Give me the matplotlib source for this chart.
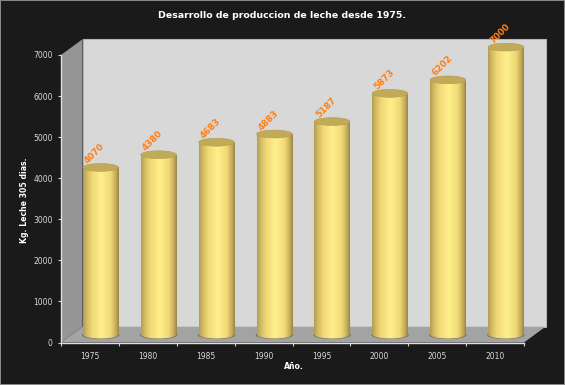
import numpy as np
import matplotlib
matplotlib.use("Agg")
import matplotlib.pyplot as plt
from matplotlib.colors import LinearSegmentedColormap
from matplotlib.patches import Ellipse, Polygon, Rectangle

years = ["1975", "1980", "1985", "1990", "1995", "2000", "2005", "2010"]
leche = [4070, 4380, 4683, 4883, 5187, 5873, 6202, 7000]
y_ticks = [0, 1000, 2000, 3000, 4000, 5000, 6000, 7000]

W, H = 565, 385
BG = "#1a1a1a"
TXT = "#d8d8d8"

# pixel box of the front plane of the plot
left, right, top, bottom = 61, 524, 55, 342.5

fig = plt.figure(figsize=(W / 100, H / 100), dpi=100, facecolor=BG)
ax = fig.add_axes([left / W, 1 - bottom / H, (right - left) / W, (bottom - top) / H])
ax.set_facecolor("none")

# depth of the fake 3d box, in data units
px_x = len(years) / (right - left)
px_y = 7000 / (bottom - top)
dx = 21.5 * px_x
dy = 15.8 * px_y
xmax = len(years)

# walls
ax.add_patch(Polygon([(dx, dy), (xmax + dx, dy), (xmax + dx, 7000 + dy), (dx, 7000 + dy)],
                     fc="#d8d8d8", ec="#b4b4b4", lw=0.8, clip_on=False, zorder=1))
ax.add_patch(Polygon([(0, 0), (dx, dy), (dx, 7000 + dy), (0, 7000)],
                     fc="#959595", ec="none", clip_on=False, zorder=1.1))
ax.add_patch(Polygon([(0, 0), (xmax, 0), (xmax + dx, dy), (dx, dy)],
                     fc="#a3a3a3", ec="none", clip_on=False, zorder=1.1))

# cylinder shading
cyl = LinearSegmentedColormap.from_list("cyl", [
    (0.0, "#b09c52"), (0.08, "#cdb55f"), (0.25, "#f0d876"), (0.52, "#fff08a"),
    (0.78, "#f0d876"), (0.92, "#c4ab58"), (1.0, "#978549")])
grad = np.linspace(0, 1, 128).reshape(1, -1)

bar_w = 35.6 * px_x
ell_h = 7.8 * px_y
for i, v in enumerate(leche):
    xc = i + 0.5 + dx / 2
    base = dy / 2
    top_v = v + dy / 2
    x0, x1 = xc - bar_w / 2, xc + bar_w / 2

    # contact shadow, only the tips show
    ax.add_patch(Ellipse((xc, base - 0.06 * ell_h), bar_w * 1.05, ell_h,
                         fc="#6f6d60", ec="none", clip_on=False, zorder=2))

    body = ax.imshow(grad, cmap=cyl, extent=[x0, x1, base, top_v], aspect="auto",
                     interpolation="bilinear", zorder=3)
    body.set_clip_on(False)
    # bottom curve of the cylinder
    low = Ellipse((xc, base), bar_w, ell_h, fc="none", ec="none", zorder=3, clip_on=False)
    ax.add_patch(low)
    im2 = ax.imshow(grad, cmap=cyl, extent=[x0, x1, base - ell_h / 2, base], aspect="auto",
                    interpolation="bilinear", zorder=3)
    im2.set_clip_path(low)

    ax.add_patch(Ellipse((xc, top_v), bar_w, ell_h, fc="#c2ab58", ec="#b09a50", lw=0.4,
                         clip_on=False, zorder=4))

    ax.text(x0 + 6.5 * px_x, top_v + 2 * px_y, str(v), color="#ff7f14",
            fontsize=6.4, fontweight="bold", rotation=45, ha="left", va="bottom",
            rotation_mode="anchor", zorder=5, clip_on=False)

ax.set_xlim(0, xmax)
ax.set_ylim(0, 7000)

# axes lines and ticks
for s in ["top", "right"]:
    ax.spines[s].set_visible(False)
for s in ["left", "bottom"]:
    ax.spines[s].set_color("#e0e0e0")
    ax.spines[s].set_linewidth(1.0)
    ax.spines[s].set_zorder(6)

ax.set_yticks(y_ticks)
ax.set_xticks(np.arange(len(years) + 1))
ax.set_xticklabels([""] * (len(years) + 1))
ax.set_xticks(np.arange(len(years)) + 0.5, minor=True)
ax.set_xticklabels(years, minor=True)
ax.tick_params(axis="x", which="major", length=2.2, width=0.8, color="#d0d0d0")
ax.tick_params(axis="x", which="minor", length=0, pad=6.5, labelsize=5.5, labelcolor=TXT)
ax.tick_params(axis="y", length=2.2, width=0.8, color="#d0d0d0", pad=3.8, labelsize=5.5, labelcolor=TXT)

fig.text(282.5 / W, 1 - 16 / H, "Desarrollo de produccion de leche desde 1975.", color="white",
         fontsize=6.75, fontweight="bold", ha="center", va="center")
fig.text(293.5 / W, 1 - 366.7 / H, "Año.", color="white", fontsize=5.6, fontweight="bold",
         ha="center", va="center")
fig.text(25 / W, 1 - 200 / H, "Kg. Leche 305 dias.", color="white", fontsize=5.55,
         fontweight="bold", rotation=90, ha="center", va="center")

# thin grey frame round the picture
fig.add_artist(Rectangle((0, 0), 1, 1, transform=fig.transFigure, fc="none", ec="#8c8c8c", lw=1.4))

fig.savefig("out.png", dpi=100, facecolor=BG)
